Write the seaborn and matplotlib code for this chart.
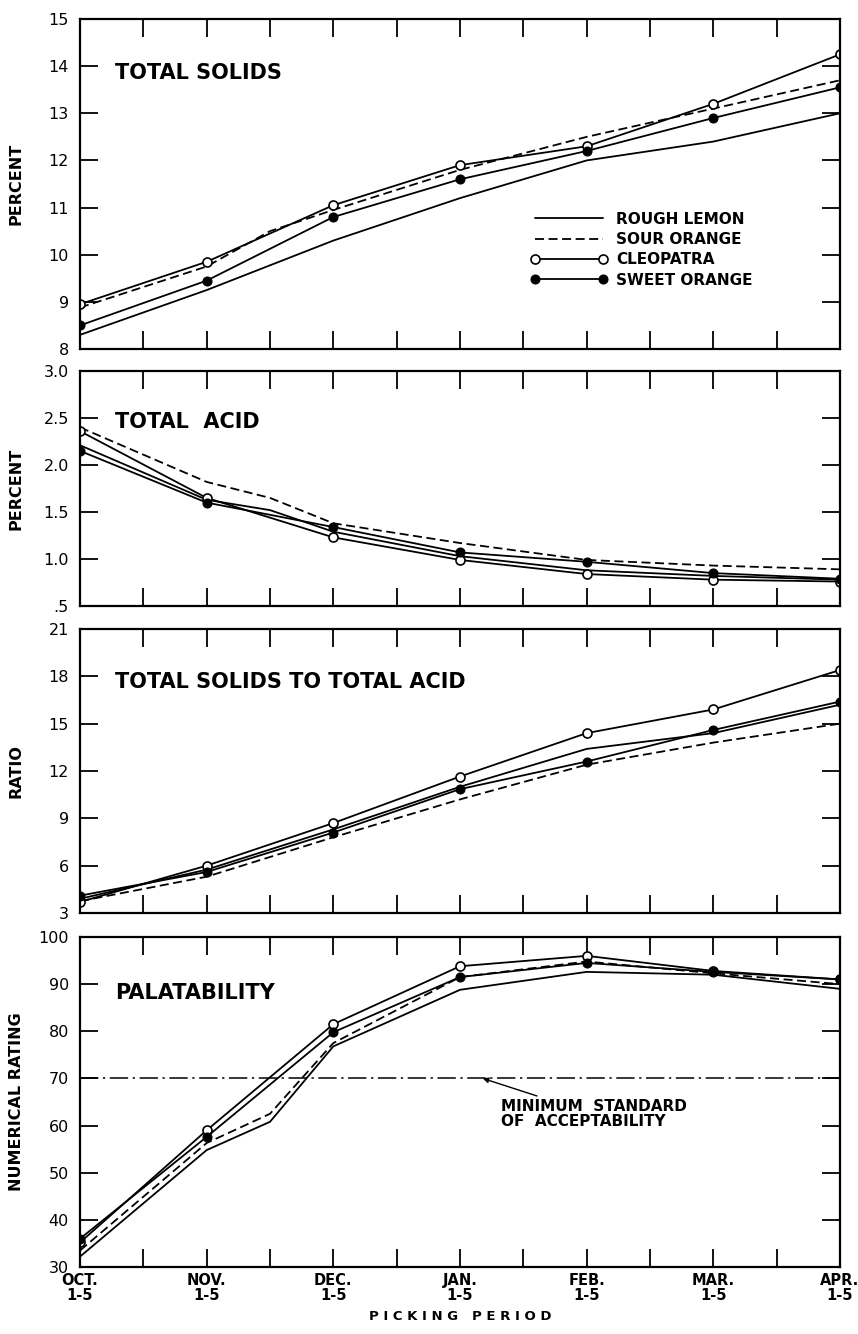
import numpy as np
import pandas as pd
import matplotlib
matplotlib.use("Agg")
import matplotlib.pyplot as plt
import seaborn as sns

sns.set_theme(style="ticks")
plt.rcParams["font.family"] = ["DejaVu Sans"]
plt.rcParams["text.color"] = "black"
plt.rcParams["axes.labelcolor"] = "black"

# Picking periods (labels on the x axis); samples are semi-monthly
period_labels = ["OCT.\n1-5", "NOV.\n1-5", "DEC.\n1-5", "JAN.\n1-5",
                 "FEB.\n1-5", "MAR.\n1-5", "APR.\n1-5"]
semi_monthly_t = [0, 0.5, 1, 1.5, 2, 2.5, 3, 3.5, 4, 4.5, 5, 5.5, 6]
monthly_t = [0, 1, 2, 3, 4, 5, 6]
nan = np.nan

# Total solids, percent
solids_rough_lemon = [8.3, nan, 9.25, nan, 10.3, nan, 11.2, nan, 12.0, nan, 12.4, nan, 13.0]
solids_sour_orange = [8.88, nan, 9.75, 10.5, 10.95, nan, 11.8, nan, 12.5, nan, 13.1, nan, 13.7]
solids_cleopatra = [8.95, 9.85, 11.05, 11.9, 12.3, 13.2, 14.25]
solids_sweet_orange = [8.5, 9.45, 10.8, 11.6, 12.2, 12.9, 13.55]

# Total acid, percent
acid_rough_lemon = [2.21, nan, 1.63, 1.52, 1.29, nan, 1.03, nan, 0.88, nan, 0.82, nan, 0.78]
acid_sour_orange = [2.40, nan, 1.82, 1.65, 1.38, nan, 1.17, nan, 0.99, nan, 0.93, nan, 0.89]
acid_cleopatra = [2.36, 1.65, 1.23, 0.99, 0.84, 0.78, 0.76]
acid_sweet_orange = [2.15, 1.60, 1.34, 1.07, 0.97, 0.85, 0.79]

# Total solids to total acid ratio
ratio_rough_lemon = [3.9, nan, 5.75, nan, 8.3, nan, 11.0, nan, 13.4, nan, 14.4, nan, 16.2]
ratio_sour_orange = [3.75, nan, 5.3, nan, 7.8, nan, 10.2, nan, 12.4, nan, 13.8, nan, 15.0]
ratio_cleopatra = [3.7, 6.0, 8.7, 11.65, 14.4, 15.9, 18.4]
ratio_sweet_orange = [4.1, 5.6, 8.1, 10.85, 12.6, 14.6, 16.4]

# Palatability, numerical rating
pal_rough_lemon = [32.2, nan, 54.8, 60.8, 76.8, nan, 88.8, nan, 92.6, nan, 92.0, nan, 89.0]
pal_sour_orange = [33.5, nan, 56.3, 62.5, 77.5, nan, 91.5, nan, 94.8, nan, 92.3, nan, 90.0]
pal_cleopatra = [35.2, 59.0, 81.5, 93.8, 96.0, 92.8, 91.0]
pal_sweet_orange = [36.0, 57.6, 79.8, 91.5, 94.5, 92.6, 91.0]
min_acceptable = 70

rootstocks = ["ROUGH LEMON", "SOUR ORANGE", "CLEOPATRA", "SWEET ORANGE"]

panels = [
    dict(title="TOTAL SOLIDS", ylabel="PERCENT", title_y=0.836,
         series=[solids_rough_lemon, solids_sour_orange, solids_cleopatra, solids_sweet_orange],
         yticks=[8, 9, 10, 11, 12, 13, 14, 15],
         yticklabels=["8", "9", "10", "11", "12", "13", "14", "15"]),
    dict(title="TOTAL  ACID", ylabel="PERCENT", title_y=0.783,
         series=[acid_rough_lemon, acid_sour_orange, acid_cleopatra, acid_sweet_orange],
         yticks=[0.5, 1.0, 1.5, 2.0, 2.5, 3.0],
         yticklabels=[".5", "1.0", "1.5", "2.0", "2.5", "3.0"]),
    dict(title="TOTAL SOLIDS TO TOTAL ACID", ylabel="RATIO", title_y=0.813,
         series=[ratio_rough_lemon, ratio_sour_orange, ratio_cleopatra, ratio_sweet_orange],
         yticks=[3, 6, 9, 12, 15, 18, 21],
         yticklabels=["3", "6", "9", "12", "15", "18", "21"]),
    dict(title="PALATABILITY", ylabel="NUMERICAL RATING", title_y=0.83,
         series=[pal_rough_lemon, pal_sour_orange, pal_cleopatra, pal_sweet_orange],
         yticks=[30, 40, 50, 60, 70, 80, 90, 100],
         yticklabels=["30", "40", "50", "60", "70", "80", "90", "100"]),
]

line_styles = {
    "ROUGH LEMON": dict(linestyle="-", marker=None),
    "SOUR ORANGE": dict(linestyle=(0, (5, 2.5)), marker=None),
    "CLEOPATRA": dict(linestyle="-", marker="o", markerfacecolor="white",
                      markeredgecolor="black", markersize=6.5, markeredgewidth=1.2),
    "SWEET ORANGE": dict(linestyle="-", marker="o", markerfacecolor="black",
                         markeredgecolor="black", markersize=6.5),
}

fig = plt.figure(figsize=(8.58, 13.34), dpi=100)
left, width = 80 / 858, 760 / 858
boxes = [(19, 349), (371, 606), (629, 913), (937, 1267)]
H = 1334

axes = []
for (top, bottom), spec in zip(boxes, panels):
    ax = fig.add_axes([left, 1 - bottom / H, width, (bottom - top) / H])
    axes.append(ax)
    for name, values in zip(rootstocks, spec["series"]):
        t = semi_monthly_t if len(values) == len(semi_monthly_t) else monthly_t
        df = pd.DataFrame({"t": t, "value": values}).dropna()
        sns.lineplot(data=df, x="t", y="value", ax=ax, color="black",
                     linewidth=1.3, errorbar=None, label=name,
                     legend=False, **line_styles[name])
    ax.set_xlim(0, 6)
    ax.set_ylim(spec["yticks"][0], spec["yticks"][-1])
    ax.set_yticks(spec["yticks"])
    ax.set_yticklabels(spec["yticklabels"])
    ax.set_xticks(semi_monthly_t)
    ax.set_xticklabels([""] * len(semi_monthly_t))
    ax.tick_params(axis="both", direction="in", length=13, width=1.3,
                   top=True, right=True, labelsize=11.5, pad=6, colors="black")
    ax.tick_params(axis="y", pad=8)
    for sp in ax.spines.values():
        sp.set_linewidth(1.6)
        sp.set_color("black")
    ax.set_xlabel("")
    ax.set_ylabel(spec["ylabel"], fontsize=11.5, fontweight="bold")
    ax.yaxis.set_label_coords(-0.074, 0.5)
    ax.text(0.046, spec["title_y"], spec["title"],
            transform=ax.transAxes, fontsize=15, fontweight="bold",
            ha="left", va="center", color="black")

# Legend inside the first panel
handles = axes[0].get_lines()[:4]
axes[0].legend(handles, rootstocks, loc="upper left", bbox_to_anchor=(0.585, 0.435),
               frameon=False, handlelength=5.0, handletextpad=0.6,
               labelspacing=0.35, numpoints=2, borderaxespad=0,
               prop=dict(weight="bold", size=11))

# Minimum standard of acceptability in the palatability panel
pal_ax = axes[3]
pal_ax.axhline(min_acceptable, color="black", linewidth=1.1,
               linestyle=(0, (12, 3, 1.5, 3)))
pal_ax.annotate("MINIMUM  STANDARD\nOF  ACCEPTABILITY", xy=(3.18, min_acceptable),
                xytext=(3.32, 62.4), fontsize=11, fontweight="bold",
                ha="left", va="center", linespacing=1.0,
                arrowprops=dict(arrowstyle="-|>", color="black", lw=1.0,
                                mutation_scale=8, shrinkA=0, shrinkB=0))

# Month labels only at whole-month ticks
bottom_labels = []
for t in semi_monthly_t:
    bottom_labels.append(period_labels[int(t)] if float(t).is_integer() else "")
pal_ax.set_xticklabels(bottom_labels, fontsize=10.5, fontweight="bold",
                       linespacing=1.05)
pal_ax.tick_params(axis="x", pad=4)
pal_ax.set_xlabel("P I C K I N G   P E R I O D", fontsize=9.5, fontweight="bold",
                  labelpad=5)

fig.savefig("out.png", dpi=100, facecolor="white")
